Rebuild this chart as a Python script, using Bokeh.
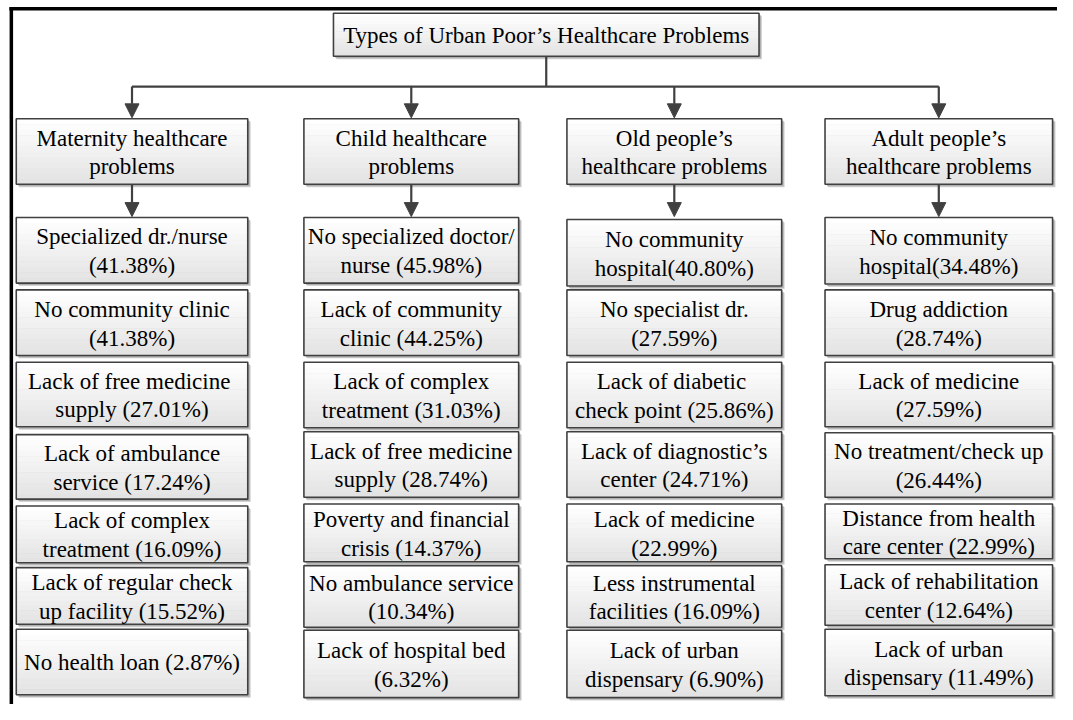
from bokeh.plotting import figure
from bokeh.models import Range1d, ColumnDataSource, Arrow, NormalHead
from bokeh.embed import file_html
from bokeh.resources import INLINE
from bokeh.core.properties import value

# ---------------- data ----------------
title_text = "Types of Urban Poor\u2019s Healthcare Problems"
group_names = ["Maternity healthcare\nproblems",
               "Child healthcare\nproblems",
               "Old people\u2019s\nhealthcare problems",
               "Adult people\u2019s\nhealthcare problems"]

maternity_labels = ["Specialized dr./nurse\n", "No community clinic\n",
                    "Lack of free  medicine\nsupply ", "Lack of ambulance\nservice ",
                    "Lack of complex\ntreatment ", "Lack of regular check\nup facility ",
                    "No health loan "]
maternity_pct = [41.38, 41.38, 27.01, 17.24, 16.09, 15.52, 2.87]

child_labels = ["No specialized doctor/\nnurse ", "Lack of community\nclinic ",
                "Lack of complex\ntreatment ", "Lack of free medicine\nsupply ",
                "Poverty and financial\ncrisis ", "No ambulance service\n",
                "Lack of hospital bed\n"]
child_pct = [45.98, 44.25, 31.03, 28.74, 14.37, 10.34, 6.32]

old_labels = ["No community\nhospital", "No specialist dr.\n",
              "Lack of  diabetic\ncheck point ", "Lack of diagnostic\u2019s\ncenter ",
              "Lack of medicine\n", "Less instrumental\nfacilities ",
              "Lack of urban\ndispensary "]
old_pct = [40.80, 27.59, 25.86, 24.71, 22.99, 16.09, 6.90]

adult_labels = ["No community\nhospital", "Drug addiction\n", "Lack of medicine\n",
                "No treatment/check up\n", "Distance from health\ncare center ",
                "Lack of rehabilitation\ncenter ", "Lack of urban\ndispensary "]
adult_pct = [34.48, 28.74, 27.59, 26.44, 22.99, 12.64, 11.49]

all_labels = [maternity_labels, child_labels, old_labels, adult_labels]
all_pct = [maternity_pct, child_pct, old_pct, adult_pct]

# ---------------- layout (reference pixels) ----------------
col_left = [16, 308, 575, 837]
col_right = [251, 526, 793, 1068]
row_tops = [[222, 296, 370, 444, 517, 580, 643],
            [222, 296, 370, 441, 515, 578, 644],
            [224, 296, 370, 441, 515, 578, 644],
            [222, 296, 370, 442, 515, 577, 643]]
row_bottoms = [[289, 363, 436, 510, 575, 638, 710],
               [289, 363, 437, 508, 574, 641, 713],
               [292, 363, 437, 508, 574, 641, 713],
               [290, 363, 436, 508, 571, 639, 711]]
header_top, header_bottom = 121, 188
title_box = (338, 770, 13, 57)
bus_y = 88

FONT = value("Liberation Serif")
LINE = "#404040"

p = figure(width=1057, height=704, output_backend="svg", toolbar_location=None,
           x_range=Range1d(0, 1073), y_range=Range1d(720, 0),
           min_border=0, background_fill_color="white")
p.axis.visible = False
p.grid.visible = False
p.outline_line_color = None

# collect boxes
boxes = []  # (l, r, t, b, text)
boxes.append((title_box[0], title_box[1], title_box[2], title_box[3], title_text))
for c in range(4):
    boxes.append((col_left[c], col_right[c], header_top, header_bottom, group_names[c]))
    for i in range(7):
        txt = "%s(%.2f%%)" % (all_labels[c][i], all_pct[c][i])
        boxes.append((col_left[c], col_right[c], row_tops[c][i], row_bottoms[c][i], txt))

# shadows
sh = dict(l=[b[0] + 3 for b in boxes], r=[b[1] + 3 for b in boxes],
          t=[b[2] + 3 for b in boxes], b=[b[3] + 3 for b in boxes])
p.quad(left="l", right="r", top="t", bottom="b", source=ColumnDataSource(sh),
       fill_color="#c8c8c8", fill_alpha=0.8, line_color=None)
sh2 = dict(l=[b[0] + 2 for b in boxes], r=[b[1] + 2 for b in boxes],
           t=[b[2] + 2 for b in boxes], b=[b[3] + 2 for b in boxes])
p.quad(left="l", right="r", top="t", bottom="b", source=ColumnDataSource(sh2),
       fill_color="#a8a8a8", fill_alpha=0.8, line_color=None)

# gradient fill strips
N = 12
gl, gr, gt, gb, gc = [], [], [], [], []
for (l, r, t, b, _) in boxes:
    h = (b - t) / N
    for k in range(N):
        gl.append(l); gr.append(r)
        gt.append(t + k * h); gb.append(t + (k + 1) * h + 0.6)
        f = k / (N - 1)
        v = int(round(255 - f * 28))
        gc.append("#%02x%02x%02x" % (v, v, v))
p.quad(left="l", right="r", top="t", bottom="b", fill_color="c", line_color=None,
       source=ColumnDataSource(dict(l=gl, r=gr, t=gt, b=gb, c=gc)))

# outlines
p.quad(left=[b[0] for b in boxes], right=[b[1] for b in boxes],
       top=[b[2] for b in boxes], bottom=[b[3] for b in boxes],
       fill_alpha=0, line_color=LINE, line_width=1.6)

# texts
p.text(x=[(b[0] + b[1]) / 2 for b in boxes], y=[(b[2] + b[3]) / 2 + 1 for b in boxes],
       text=[b[4] for b in boxes], text_font=FONT, text_font_size="23px",
       text_align="center", text_baseline="middle", text_color="black",
       text_line_height=1.15)

# connectors
centers = [(col_left[c] + col_right[c]) / 2 for c in range(4)]
tcx = (title_box[0] + title_box[1]) / 2
p.segment(x0=[tcx, centers[0]], y0=[title_box[3], bus_y],
          x1=[tcx, centers[-1]], y1=[bus_y, bus_y], line_color=LINE, line_width=2.2)
ax0 = centers + centers
ay0 = [bus_y] * 4 + [header_bottom] * 4
ax1 = centers + centers
ay1 = [header_top - 1] * 4 + [min(row_tops[c][0] for c in range(4)) - 1] * 4
p.add_layout(Arrow(end=NormalHead(size=14, fill_color=LINE, line_color=LINE),
                   x_start="x0", y_start="y0", x_end="x1", y_end="y1",
                   line_color=LINE, line_width=2.2,
                   source=ColumnDataSource(dict(x0=ax0, y0=ay0, x1=ax1, y1=ay1))))

# frame lines
p.segment(x0=[9, 11], y0=[8.5, 7], x1=[1073, 11], y1=[8.5, 720],
          line_color="black", line_width=3.5)

open("out.html", "w").write(file_html(p, INLINE))
